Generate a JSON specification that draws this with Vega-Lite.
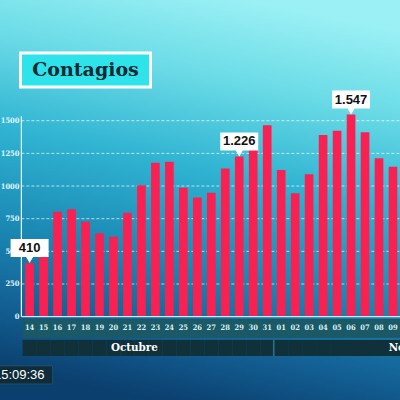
{
  "$schema": "https://vega.github.io/schema/vega-lite/v6.json",
  "width": 400,
  "height": 400,
  "autosize": "none",
  "padding": 0,
  "background": "#1a86b0",
  "datasets": {
    "casos": [
      {"d": "14", "v": 410, "m": "Octubre"},
      {"d": "15", "v": 560, "m": "Octubre"},
      {"d": "16", "v": 803, "m": "Octubre"},
      {"d": "17", "v": 822, "m": "Octubre"},
      {"d": "18", "v": 727, "m": "Octubre"},
      {"d": "19", "v": 638, "m": "Octubre"},
      {"d": "20", "v": 612, "m": "Octubre"},
      {"d": "21", "v": 796, "m": "Octubre"},
      {"d": "22", "v": 1005, "m": "Octubre"},
      {"d": "23", "v": 1178, "m": "Octubre"},
      {"d": "24", "v": 1186, "m": "Octubre"},
      {"d": "25", "v": 987, "m": "Octubre"},
      {"d": "26", "v": 913, "m": "Octubre"},
      {"d": "27", "v": 949, "m": "Octubre"},
      {"d": "28", "v": 1135, "m": "Octubre"},
      {"d": "29", "v": 1226, "m": "Octubre"},
      {"d": "30", "v": 1291, "m": "Octubre"},
      {"d": "31", "v": 1465, "m": "Octubre"},
      {"d": "01", "v": 1123, "m": "Noviembre"},
      {"d": "02", "v": 944, "m": "Noviembre"},
      {"d": "03", "v": 1090, "m": "Noviembre"},
      {"d": "04", "v": 1391, "m": "Noviembre"},
      {"d": "05", "v": 1424, "m": "Noviembre"},
      {"d": "06", "v": 1547, "m": "Noviembre"},
      {"d": "07", "v": 1411, "m": "Noviembre"},
      {"d": "08", "v": 1212, "m": "Noviembre"},
      {"d": "09", "v": 1148, "m": "Noviembre"}
    ],
    "etiquetas": [
      {"d": "14", "v": 410, "t": "410"},
      {"d": "29", "v": 1226, "t": "1.226"},
      {"d": "06", "v": 1547, "t": "1.547"}
    ],
    "grid": [{"g": 250}, {"g": 500}, {"g": 750}, {"g": 1000}, {"g": 1250}, {"g": 1500}]
  },
  "layer": [
    {
      "data": {"name": "grid"},
      "mark": {"type": "rule", "color": "#ffffff", "opacity": 0.85, "strokeWidth": 0.8, "strokeDash": [3, 2]},
      "encoding": {
        "y": {"field": "g", "type": "quantitative", "title": null},
        "x": {"datum": "14", "bandPosition": -0.45},
        "x2": {"datum": "09", "bandPosition": 1.5}
      }
    },
    {
      "data": {"name": "casos"},
      "mark": {"type": "bar", "color": "#1b5966", "width": {"band": 1.62}},
      "encoding": {
        "x": {"field": "d", "type": "nominal"},
        "y": {"datum": -18},
        "y2": {"datum": -163}
      }
    },
    {
      "data": {"name": "casos"},
      "mark": {"type": "bar", "color": "#10313a", "width": {"band": 1.62}},
      "encoding": {
        "x": {"field": "d", "type": "nominal"},
        "y": {"datum": -178},
        "y2": {"datum": -301}
      }
    },
    {
      "data": {"values": [{}]},
      "mark": {"type": "rule", "color": "#2a6f82", "strokeWidth": 1.6},
      "encoding": {
        "x": {"datum": "01", "bandPosition": -0.36},
        "y": {"datum": -178},
        "y2": {"datum": -301}
      }
    },
    {
      "data": {"name": "casos"},
      "mark": {"type": "bar", "color": "#fa2152"},
      "encoding": {
        "x": {
          "field": "d",
          "type": "nominal",
          "scale": {
            "type": "band",
            "domain": ["14", "15", "16", "17", "18", "19", "20", "21", "22", "23", "24", "25", "26", "27", "28", "29", "30", "31", "01", "02", "03", "04", "05", "06", "07", "08", "09"],
            "paddingInner": 0.38,
            "paddingOuter": 1.0166,
            "align": 0.904
          }
        },
        "y": {
          "field": "v",
          "type": "quantitative",
          "title": null,
          "scale": {"domain": [-638, 2424], "nice": false, "zero": false},
          "axis": {
            "orient": "left",
            "offset": -22,
            "grid": false,
            "domain": false,
            "ticks": false,
            "values": [0, 250, 500, 750, 1000, 1250, 1500],
            "format": "d",
            "labelColor": "#e0f6f8",
            "labelFont": "DejaVu Serif Condensed",
            "labelFontWeight": "bold",
            "labelFontSize": 7.5,
            "labelPadding": 3
          }
        },
        "y2": {"datum": 0}
      }
    },
    {
      "data": {"values": [{}]},
      "mark": {"type": "rule", "color": "#e8fbfc", "strokeWidth": 1.2},
      "encoding": {
        "x": {"datum": "14", "bandPosition": -0.45},
        "y": {"datum": 0},
        "y2": {"datum": 1535}
      }
    },
    {
      "data": {"values": [{}]},
      "mark": {"type": "rule", "color": "#bfeef3", "strokeWidth": 1.2},
      "encoding": {
        "x": {"datum": "14", "bandPosition": -0.45},
        "x2": {"datum": "09", "bandPosition": 1.5},
        "y": {"datum": 0}
      }
    },
    {
      "data": {"name": "casos"},
      "mark": {"type": "text", "font": "DejaVu Serif Condensed", "fontWeight": "bold", "fontSize": 7.5, "color": "#d9f1f3", "baseline": "middle"},
      "encoding": {
        "x": {"field": "d", "type": "nominal"},
        "y": {"datum": -85},
        "text": {"field": "d"}
      }
    },
    {
      "data": {"values": [{}]},
      "mark": {"type": "text", "text": "Octubre", "font": "DejaVu Serif Condensed", "fontWeight": "bold", "fontSize": 11.5, "color": "#ffffff", "baseline": "middle"},
      "encoding": {
        "x": {"datum": "21", "bandPosition": 1.3},
        "y": {"datum": -240}
      }
    },
    {
      "data": {"values": [{}]},
      "mark": {"type": "text", "text": "Noviembre", "align": "left", "font": "DejaVu Serif Condensed", "fontWeight": "bold", "fontSize": 11.5, "color": "#ffffff", "baseline": "middle"},
      "encoding": {
        "x": {"datum": "09", "bandPosition": 0},
        "y": {"datum": -240}
      }
    },
    {
      "data": {"name": "etiquetas"},
      "mark": {
        "type": "point",
        "shape": "M0,0 L-0.35,-0.6 L-1.9,-0.6 L-1.9,-2.4 L1.9,-2.4 L1.9,-0.6 L0.35,-0.6 Z",
        "size": 400,
        "filled": true,
        "fill": "#ffffff",
        "opacity": 1,
        "strokeWidth": 0
      },
      "encoding": {
        "x": {"field": "d", "type": "nominal"},
        "y": {"field": "v", "type": "quantitative", "title": null}
      }
    },
    {
      "data": {"name": "etiquetas"},
      "mark": {"type": "text", "font": "Liberation Sans", "fontWeight": "bold", "fontSize": 13, "color": "#111111", "baseline": "middle", "dy": -15},
      "encoding": {
        "x": {"field": "d", "type": "nominal"},
        "y": {"field": "v", "type": "quantitative", "title": null},
        "text": {"field": "t"}
      }
    },
    {
      "data": {"values": [{}]},
      "mark": {
        "type": "point",
        "shape": "M-6.5,-1.7 L6.5,-1.7 L6.5,1.7 L-6.5,1.7 Z",
        "size": 400,
        "filled": true,
        "fill": "#2fe3ea",
        "stroke": "#ffffff",
        "strokeWidth": 3,
        "opacity": 1
      },
      "encoding": {
        "x": {"datum": "18"},
        "y": {"datum": 1888}
      }
    },
    {
      "data": {"values": [{}]},
      "mark": {"type": "text", "text": "Contagios", "font": "DejaVu Serif", "fontWeight": "bold", "fontSize": 19, "color": "#102a33", "baseline": "middle"},
      "encoding": {
        "x": {"datum": "18"},
        "y": {"datum": 1888}
      }
    },
    {
      "data": {"values": [{}]},
      "mark": {
        "type": "point",
        "shape": "M-4.6,-0.9 L0.9,-0.9 L0.9,0.9 L-4.6,0.9 Z",
        "size": 400,
        "filled": true,
        "fill": "#0f2c3a",
        "stroke": "#2f5f70",
        "strokeWidth": 0.6,
        "opacity": 1
      },
      "encoding": {
        "x": {"datum": "15"},
        "y": {"datum": -446}
      }
    },
    {
      "data": {"values": [{}]},
      "mark": {"type": "text", "text": "15:09:36", "align": "right", "dx": 1, "font": "Liberation Sans", "fontSize": 13, "color": "#ffffff", "baseline": "middle"},
      "encoding": {
        "x": {"datum": "15"},
        "y": {"datum": -446}
      }
    }
  ],
  "config": {
    "view": {
      "stroke": null,
      "fill": {
        "gradient": "linear",
        "x1": 0.6, "y1": 0, "x2": 0.4, "y2": 1,
        "stops": [
          {"offset": 0, "color": "#9af0f4"},
          {"offset": 0.2, "color": "#6adbe6"},
          {"offset": 0.42, "color": "#30b4d2"},
          {"offset": 0.65, "color": "#1b8ab5"},
          {"offset": 0.85, "color": "#135f93"},
          {"offset": 1, "color": "#0b3f6e"}
        ]
      }
    },
    "axisX": {"disable": true}
  }
}
